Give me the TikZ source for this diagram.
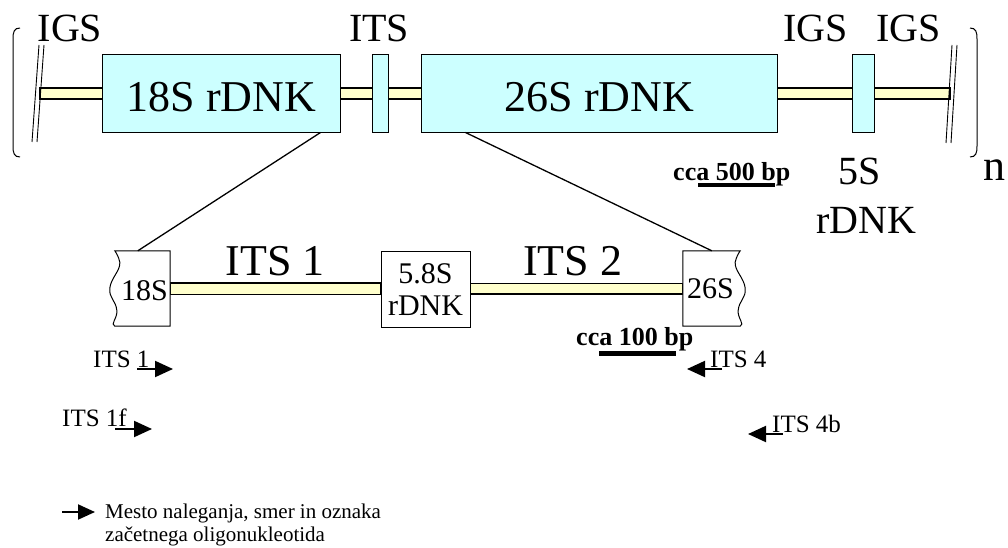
\documentclass[tikz,border=0pt]{standalone}
\usepackage{fontspec}
\setmainfont{Liberation Serif}
\usetikzlibrary{arrows.meta,calc}
\definecolor{boxcyan}{HTML}{CCFFFF}
\definecolor{baryellow}{HTML}{FFFFCC}
\begin{document}
\begin{tikzpicture}[x=1pt,y=-1pt,
  bigbox/.style={draw=black,fill=boxcyan,line width=1pt,inner sep=0pt,minimum height=77pt},
  hidbox/.style={draw=none,inner sep=0pt,minimum height=75pt},
  wbox/.style={draw=black,fill=white,line width=1pt,inner sep=0pt,minimum height=76pt},
  bar/.style={draw=black,fill=baryellow,line width=1.3pt},
  conn/.style={draw=black,line width=1.3pt},
  brk/.style={draw=black,line width=0.9pt},
  scalebar/.style={draw=black,line cap=butt},
  primer/.style={draw=black,line width=2pt,-{Triangle[length=18pt,width=16pt]}},
  huge/.style={font=\fontsize{44}{50}\selectfont,inner sep=0pt,anchor=base},
  large/.style={font=\fontsize{40}{46}\selectfont,inner sep=0pt,anchor=base},
  mid/.style={font=\fontsize{30}{34}\selectfont,inner sep=0pt,anchor=base},
  bold/.style={font=\fontsize{26}{30}\selectfont\bfseries,inner sep=0pt,anchor=base west},
  small/.style={font=\fontsize{25}{29}\selectfont,inner sep=0pt,anchor=base west},
  legend/.style={font=\fontsize{21}{23}\selectfont,inner sep=0pt,anchor=base west}
]
\useasboundingbox (0,0) rectangle (1008,548);

% top boxes
\node[bigbox,minimum width=237pt] (b18) at (221.5,93.5) {};
\node[bigbox,minimum width=15pt] (bits) at (380.5,93.5) {};
\node[bigbox,minimum width=355pt] (b26) at (599.5,93.5) {};
\node[bigbox,minimum width=21pt] (b5) at (863.5,93.5) {};
\coordinate (lend) at (40,93.5);
\coordinate (rend) at (950,93.5);

% top bars
\begin{scope}[on background layer/.style={}]
\end{scope}
\draw[bar] ($(lend)+(0,-5.5)$) rectangle ($(b18.west)+(0,5.5)$);
\draw[bar] ($(b18.east)+(0,-5.5)$) rectangle ($(bits.west)+(0,5.5)$);
\draw[bar] ($(bits.east)+(0,-5.5)$) rectangle ($(b26.west)+(0,5.5)$);
\draw[bar] ($(b26.east)+(0,-5.5)$) rectangle ($(b5.west)+(0,5.5)$);
\draw[bar] ($(b5.east)+(0,-5.5)$) rectangle ($(rend)+(0,5.5)$);
% redraw boxes on top
\draw[bigbox] (b18.south west) rectangle (b18.north east);
\draw[bigbox] (bits.south west) rectangle (bits.north east);
\draw[bigbox] (b26.south west) rectangle (b26.north east);
\draw[bigbox] (b5.south west) rectangle (b5.north east);

% break marks
\draw[brk] (32,142) -- (39,45);
\draw[brk] (37,142) -- (44,45);
\draw[brk] (946,143) -- (952,45);
\draw[brk] (951,143) -- (957,45);

% brackets
\draw[line width=1pt] (20,28) .. controls (14,28) and (13,32) .. (13,39) -- (13,146) .. controls (13,153) and (14,157) .. (20,157);
\draw[line width=1pt] (970,28) .. controls (976,28) and (977,32) .. (977,39) -- (977,146) .. controls (977,153) and (976,157) .. (970,157);

% top labels
\node[large] (igs1) at (70,42) {IGS};
\node[large] (its0) at (379,42) {ITS};
\node[large] (igs2) at (815.5,42) {IGS};
\node[large] (igs3) at (908.5,42) {IGS};
\node[huge] (t18) at (221.5,112) {18S rDNK};
\node[huge] (t26) at (599.5,112) {26S rDNK};
\node[large] (t5a) at (860,185) {5S};
\node[large] (t5b) at (866,233) {rDNK};
\node[huge] (tn) at (994,180) {n};
\node[bold] (s500) at (673,180) {cca 500 bp};
\draw[scalebar,line width=4pt] (698,185) -- (775,185);

% lower boxes
\node[hidbox,minimum width=55pt] (s18) at (142.5,288.5) {};
\node[wbox,minimum width=89pt] (b58) at (425.5,289) {};
\node[hidbox,minimum width=57pt] (s26) at (711.5,288.5) {};

% lower bars
\draw[bar] ($(s18.east)+(0,-5.5)$) rectangle ($(b58.west)+(0,5.5)$);
\draw[bar] ($(b58.east)+(0,-5.5)$) rectangle ($(s26.west)+(0,5.5)$);

% 18S partial box with wavy left edge
\draw[line width=1pt,fill=white] (s18.north west) -- (s18.north east) -- (s18.south east) -- (s18.south west)
  .. controls ($(s18.south west)+(-5,-2)$) and ($(s18.south west)+(3,-8)$) .. ($(s18.south west)+(2,-16)$)
  .. controls ($(s18.south west)+(1,-26)$) and ($(s18.south west)+(-6,-28)$) .. ($(s18.south west)+(-5,-38)$)
  .. controls ($(s18.south west)+(-4,-48)$) and ($(s18.south west)+(6,-56)$) .. ($(s18.south west)+(5,-64)$)
  .. controls ($(s18.south west)+(4,-70)$) and ($(s18.north west)+(0,0)$) .. (s18.north west) -- cycle;
% 26S partial box with wavy right edge
\draw[line width=1pt,fill=white] (s26.north east) -- (s26.north west) -- (s26.south west) -- (s26.south east)
  .. controls ($(s26.south east)+(5,-2)$) and ($(s26.south east)+(-3,-8)$) .. ($(s26.south east)+(-2,-16)$)
  .. controls ($(s26.south east)+(-1,-26)$) and ($(s26.south east)+(6,-28)$) .. ($(s26.south east)+(5,-38)$)
  .. controls ($(s26.south east)+(4,-48)$) and ($(s26.south east)+(-6,-56)$) .. ($(s26.south east)+(-5,-64)$)
  .. controls ($(s26.south east)+(-4,-70)$) and ($(s26.north east)+(0,0)$) .. (s26.north east) -- cycle;

% zoom connectors
\draw[conn] ($(b18.south east)+(-20,0)$) -- ($(s18.north west)+(23,0)$);
\draw[conn] ($(b26.south west)+(44,0)$) -- ($(s26.north west)+(29,0)$);

% lower labels
\node[huge] (its1) at (275,275) {ITS 1};
\node[huge] (its2) at (572.5,275) {ITS 2};
\node[mid] (t18s) at (144.5,300) {18S};
\node[mid] (t58a) at (425.5,283) {5.8S};
\node[mid] (t58b) at (425.5,315) {rDNK};
\node[mid] (t26s) at (710.5,298) {26S};
\node[bold] (s100) at (576,345) {cca 100 bp};
\draw[scalebar,line width=5pt] (599,353.5) -- (676,353.5);

% primers
\node[small] (p1) at (93,367) {ITS 1};
\coordinate (p1a) at (137,369);
\coordinate (p1b) at (173,369);
\draw[primer] (p1a) -- (p1b);
\node[small] (p1f) at (62,426) {ITS 1f};
\coordinate (p1fa) at (115,429);
\coordinate (p1fb) at (152,429);
\draw[primer] (p1fa) -- (p1fb);
\node[small] (p4) at (710,367) {ITS 4};
\coordinate (p4a) at (722,369);
\coordinate (p4b) at (687,369);
\draw[primer] (p4a) -- (p4b);
\node[small] (p4b) at (772,432) {ITS 4b};
\coordinate (p4ba) at (783,434);
\coordinate (p4bb) at (748,434);
\draw[primer] (p4ba) -- (p4bb);

% legend
\coordinate (la) at (62,512);
\coordinate (lb) at (95,512);
\draw[primer,-{Triangle[length=17pt,width=15pt]}] (la) -- (lb);
\node[legend] (lg1) at (105,518) {Mesto naleganja, smer in oznaka};
\node[legend] (lg2) at (105,541) {začetnega oligonukleotida};
\end{tikzpicture}
\end{document}
